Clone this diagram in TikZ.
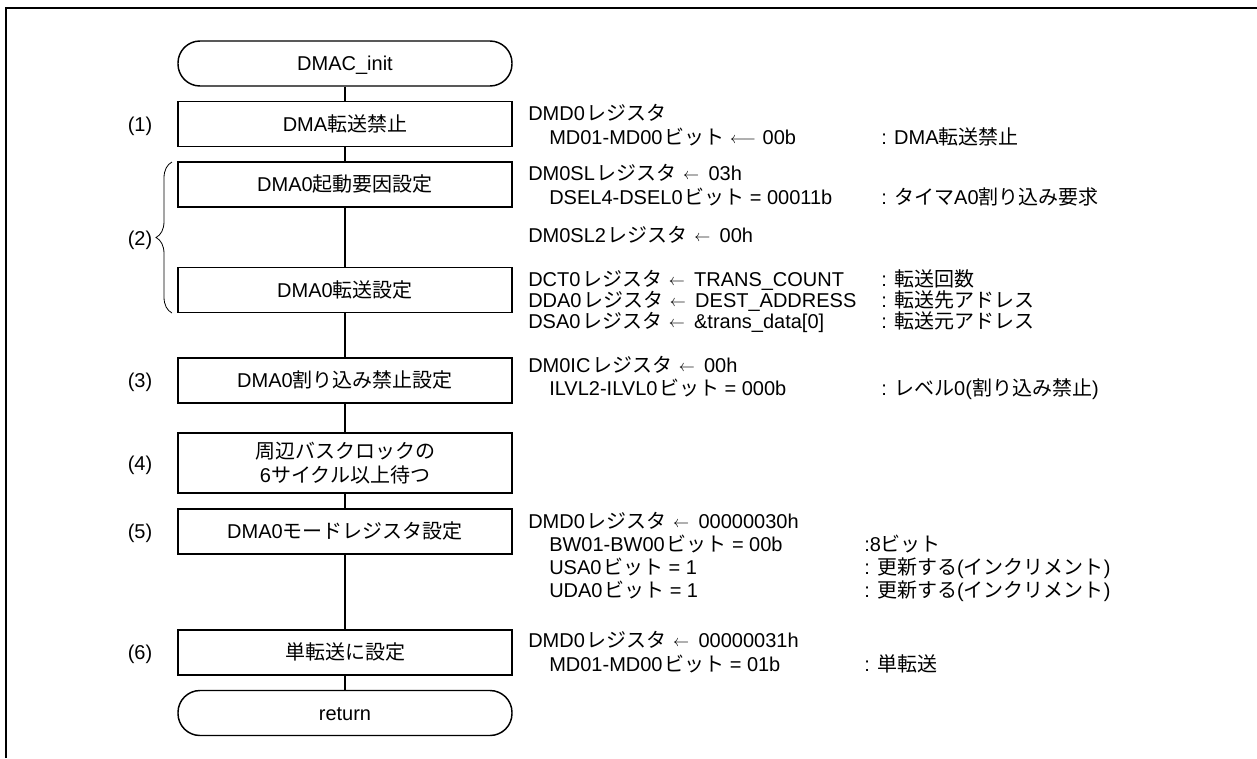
\documentclass[tikz,border=0pt]{standalone}
\usepackage{fontspec}
\setmainfont{Liberation Sans}
\newfontfamily\jpfont{Noto Sans CJK JP}
\newcommand\J[1]{{\jpfont #1}}
\newcommand\G{\kern1.2pt}
\newcommand\la{\hspace{5pt}\raisebox{0.8pt}{\fontsize{12pt}{12pt}\selectfont$\leftarrow$}\hspace{7pt}}
\newcommand\lla{\hspace{4.5pt}\raisebox{0.8pt}{\fontsize{12pt}{12pt}\selectfont$\longleftarrow$}\hspace{5pt}}
\usetikzlibrary{decorations.pathreplacing}
\begin{document}
\begin{tikzpicture}[x=0.75pt,y=-0.75pt,
  every node/.style={font=\fontsize{15pt}{18pt}\selectfont},
  flowbox/.style={draw, line width=1.1pt, minimum width=250.5pt, minimum height=33.75pt, inner sep=0pt, text height=10.7pt, text depth=0pt},
  tallbox/.style={draw, line width=1.1pt, minimum width=250.5pt, minimum height=45pt, inner sep=0pt, align=center},
  termbox/.style={flowbox, rounded corners=16.5pt},
  conn/.style={line width=1.1pt},
  txt/.style={anchor=west, inner sep=0pt, text height=10.7pt, text depth=0pt},
  lab/.style={inner sep=0pt, text height=10.7pt, text depth=0pt},
  frame/.style={line width=1.9pt}]
\useasboundingbox (0,0) rectangle (1257,758);
\draw[frame] (6,758) -- (6,8) -- (1257,8);

% flow
\node[termbox] (t0) at (345,63.5) {DMAC\_init};
\node[flowbox] (b1) at (345,124) {DMA\J{転送禁止}};
\node[flowbox] (b2) at (345,184.5) {DMA0\J{起動要因設定}};
\node[flowbox] (b3) at (345,290) {DMA0\J{転送設定}};
\node[flowbox] (b3b) at (345,380.5) {DMA0\J{割り込み禁止設定}};
\node[tallbox] (b4) at (345,463) {\J{周辺バスクロックの}\\6\J{サイクル以上待つ}};
\node[flowbox] (b5) at (345,531.5) {DMA0\J{モードレジスタ設定}};
\node[flowbox] (b6) at (345,652.5) {\J{単転送に設定}};
\node[termbox] (t1) at (345,713) {return};

\draw[conn] (t0) -- (b1);
\draw[conn] (b1) -- (b2);
\draw[conn] (b2) -- (b3);
\draw[conn] (b3) -- (b3b);
\draw[conn] (b3b) -- (b4);
\draw[conn] (b4) -- (b5);
\draw[conn] (b5) -- (b6);
\draw[conn] (b6) -- (t1);

% step labels
\node[lab] (l1) at (140,124) {(1)};
\node[lab] (l2) at (140,238) {(2)};
\node[lab] (l3) at (140,380.5) {(3)};
\node[lab] (l4) at (140,463) {(4)};
\node[lab] (l5) at (140,531.5) {(5)};
\node[lab] (l6) at (140,652.5) {(6)};
\coordinate (brb) at (172,313);
\coordinate (brt) at (172,162);
\draw[line width=0.6pt, decorate, decoration={brace, amplitude=12pt}] (brb) -- (brt);

% register text
\node[txt] (r1a) at (528,113) {DMD0\G\J{レジスタ}};
\node[txt] (r1b) at (549,137) {MD01-MD00\G\J{ビット}\lla 00b};
\node[txt] (c1) at (881,137) {: DMA\J{転送禁止}};

\node[txt] (r2a) at (528,173) {DM0SL\G\J{レジスタ}\la 03h};
\node[txt] (r2b) at (549,197) {DSEL4-DSEL0\G\J{ビット} = 00011b};
\node[txt] (c2) at (881,197) {: \J{タイマ}A0\J{割り込み要求}};
\node[txt] (r2c) at (528,235) {DM0SL2\G\J{レジスタ}\la 00h};

\node[txt] (r3a) at (528,279) {DCT0\G\J{レジスタ}\la TRANS\_COUNT};
\node[txt] (c3a) at (881,279) {: \J{転送回数}};
\node[txt] (r3b) at (528,300) {DDA0\G\J{レジスタ}\la DEST\_ADDRESS};
\node[txt] (c3b) at (881,300) {: \J{転送先アドレス}};
\node[txt] (r3c) at (528,321) {DSA0\G\J{レジスタ}\la \&trans\_data[0]};
\node[txt] (c3c) at (881,321) {: \J{転送元アドレス}};

\node[txt] (r4a) at (528,365) {DM0IC\G\J{レジスタ}\la 00h};
\node[txt] (r4b) at (549,388) {ILVL2-ILVL0\G\J{ビット} = 000b};
\node[txt] (c4) at (881,388) {: \J{レベル}0(\J{割り込み禁止})};

\node[txt] (r5a) at (528,521) {DMD0\G\J{レジスタ}\la 00000030h};
\node[txt] (r5b) at (549,544) {BW01-BW00\G\J{ビット} = 00b};
\node[txt] (c5b) at (864,544) {:8\J{ビット}};
\node[txt] (r5c) at (549,567) {USA0\G\J{ビット} = 1};
\node[txt] (c5c) at (864,567) {: \J{更新する}(\J{インクリメント})};
\node[txt] (r5d) at (549,590) {UDA0\G\J{ビット} = 1};
\node[txt] (c5d) at (864,590) {: \J{更新する}(\J{インクリメント})};

\node[txt] (r6a) at (528,640) {DMD0\G\J{レジスタ}\la 00000031h};
\node[txt] (r6b) at (549,664) {MD01-MD00\G\J{ビット} = 01b};
\node[txt] (c6) at (864,664) {: \J{単転送}};
\end{tikzpicture}
\end{document}
